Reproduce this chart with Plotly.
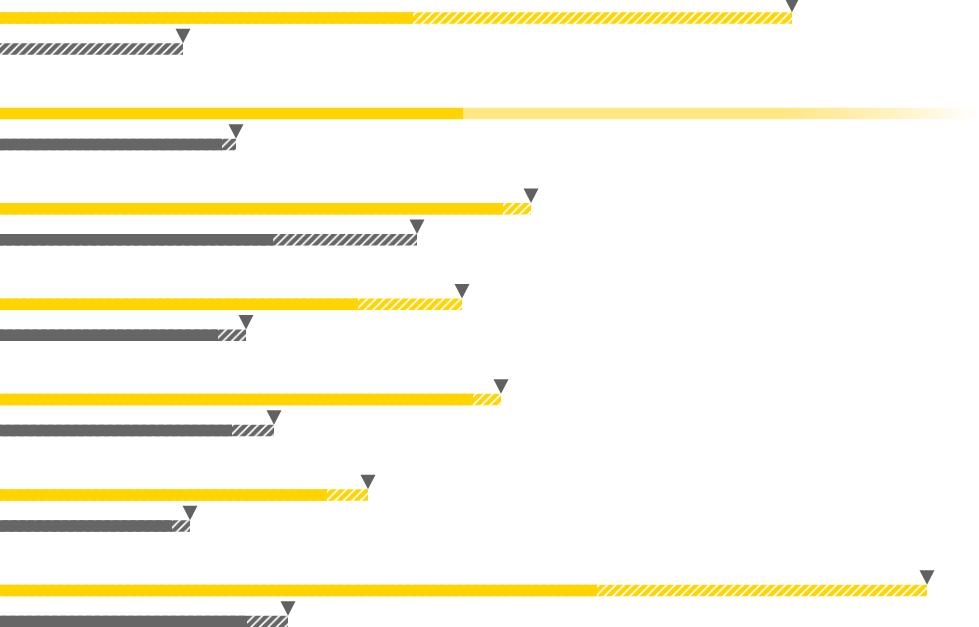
import plotly.graph_objects as go

# Data (units: tenths of plot width)
groups = ["G1", "G2", "G3", "G4", "G5", "G6", "G7"]
yellow_actual = [41.3, 46.3, 50.3, 35.8, 47.3, 32.7, 59.7]
yellow_target = [79.2, None, 53.1, 46.2, 50.1, 36.8, 92.7]
gray_actual = [0.0, 22.2, 27.3, 21.8, 23.2, 17.2, 24.7]
gray_target = [18.3, 23.6, 41.7, 24.6, 27.4, 19.0, 28.8]

YELLOW = "#FFD400"
GRAY = "#666666"
MARK = "#616161"
FADE = "#FFE784"

XMAX = 97.9
off = 0.1625
bw = 0.1205

idx = list(range(len(groups)))
y_y = [i - off for i in idx]
y_g = [i + off for i in idx]

fig = go.Figure()

def hatch(color):
    return dict(color=color, line=dict(width=0),
                pattern=dict(shape="/", size=6, solidity=0.7, fgcolor=color,
                             fgopacity=1, bgcolor="rgba(0,0,0,0)"))

# hatched target bars (behind)
yt = [t if t is not None else 0 for t in yellow_target]
fig.add_trace(go.Bar(x=yt, y=y_y, orientation="h", width=bw, marker=hatch(YELLOW),
                     hoverinfo="skip", showlegend=False))
fig.add_trace(go.Bar(x=gray_target, y=y_g, orientation="h", width=bw, marker=hatch(GRAY),
                     hoverinfo="skip", showlegend=False))

# open-ended targets: gradient fade to right edge
for i, t in enumerate(yellow_target):
    if t is None:
        a = yellow_actual[i]
        yc = y_y[i]
        fig.add_trace(go.Scatter(
            x=[a, XMAX, XMAX, a, a],
            y=[yc - bw / 2, yc - bw / 2, yc + bw / 2, yc + bw / 2, yc - bw / 2],
            mode="lines", line=dict(width=0), fill="toself",
            fillgradient=dict(type="horizontal", start=a, stop=XMAX,
                              colorscale=[[0, FADE], [0.62, FADE], [0.8, "#FFF0B8"], [1, "#FFFFFF"]]),
            hoverinfo="skip", showlegend=False))

# solid actual bars
fig.add_trace(go.Bar(x=yellow_actual, y=y_y, orientation="h", width=bw,
                     marker=dict(color=YELLOW, line=dict(width=0)), showlegend=False))
fig.add_trace(go.Bar(x=gray_actual, y=y_g, orientation="h", width=bw,
                     marker=dict(color=GRAY, line=dict(width=0)), showlegend=False))

# target triangles
shapes = []
for tlist, ylist in ((yellow_target, y_y), (gray_target, y_g)):
    for t, yc in zip(tlist, ylist):
        if t is None:
            continue
        shapes.append(dict(type="path", xref="x", yref="y",
                           xsizemode="pixel", ysizemode="pixel",
                           xanchor=t, yanchor=yc - bw / 2,
                           path="M-7.5,14.5 L7.5,14.5 L0,0 Z",
                           fillcolor=MARK, line=dict(width=0)))

fig.update_layout(
    width=979, height=627,
    margin=dict(l=0, r=0, t=0, b=0),
    paper_bgcolor="white", plot_bgcolor="white",
    barmode="overlay",
    shapes=shapes,
    xaxis=dict(range=[0, XMAX], visible=False, fixedrange=True),
    yaxis=dict(range=[6.221, -0.351], visible=False, fixedrange=True),
)

fig.write_html("out.html", config={"displayModeBar": False},
               post_script="document.body.style.margin='0';document.body.style.overflow='hidden';")
